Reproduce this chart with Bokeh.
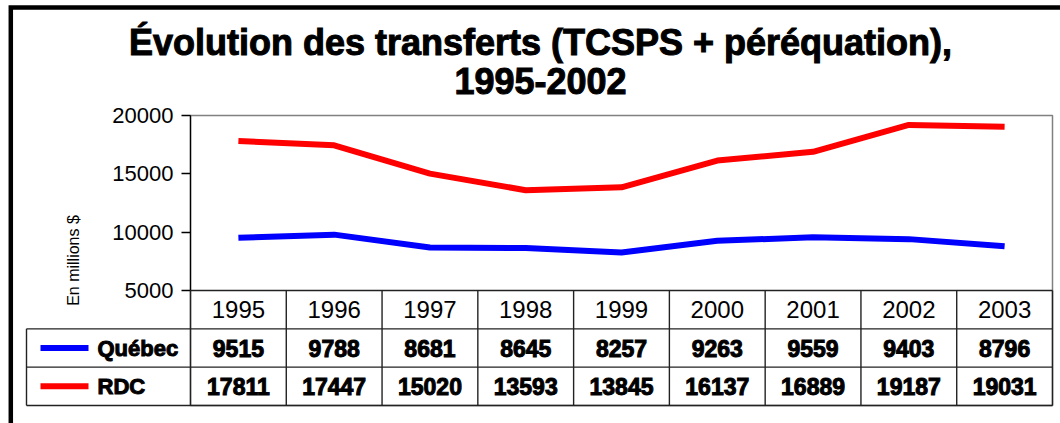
from bokeh.plotting import figure
from bokeh.models import Range1d, FixedTicker
from bokeh.core.properties import value
from bokeh.embed import file_html
from bokeh.resources import INLINE

# ---------------- data ----------------
years = ["1995", "1996", "1997", "1998", "1999", "2000", "2001", "2002", "2003"]
quebec = [9515, 9788, 8681, 8645, 8257, 9263, 9559, 9403, 8796]
rdc = [17811, 17447, 15020, 13593, 13845, 16137, 16889, 19187, 19031]
series_names = ["Québec", "RDC"]
series_colors = ["#0000FF", "#FF0000"]
y_ticks = [5000, 10000, 15000, 20000]
title_lines = ["Évolution des transferts (TCSPS + péréquation),", "1995-2002"]
y_label = "En millions $"

# ---------------- layout (canvas pixels) ----------------
FRAME_L, FRAME_R, FRAME_T, FRAME_B = 190, 1052, 115, 405
CHART_B = 290
W, H = 1060, 423
B_LEFT, B_TOP = FRAME_L, FRAME_T
B_RIGHT, B_BOTTOM = W - FRAME_R, H - FRAME_B
CHART_PX = CHART_B - FRAME_T
TABLE_PX = FRAME_B - CHART_B
ROW_PX = TABLE_PX / 3.0
n = len(years)
COL_PX = (FRAME_R - FRAME_L) / n
ymin_axis, ymax_axis = y_ticks[0], y_ticks[-1]
y_start = ymin_axis - (ymax_axis - ymin_axis) * TABLE_PX / CHART_PX
table_top = (FRAME_B - FRAME_T) / ROW_PX

def px_x(px):
    return (px - FRAME_L) / COL_PX

def px_y(py):
    return (FRAME_B - py) / ROW_PX

p = figure(width=W, height=H, x_range=Range1d(0, n), y_range=Range1d(y_start, ymax_axis),
           output_backend="svg", toolbar_location=None,
           min_border_left=B_LEFT, min_border_right=B_RIGHT,
           min_border_top=B_TOP, min_border_bottom=B_BOTTOM,
           x_axis_location=None, y_axis_location="left")
p.extra_y_ranges = {"table": Range1d(0, table_top)}
p.grid.visible = False
p.outline_line_color = "#808080"
p.outline_line_width = 1.5
p.background_fill_color = "white"
p.border_fill_color = "white"

ax = p.yaxis[0]
ax.ticker = FixedTicker(ticks=y_ticks)
ax.bounds = (ymin_axis, ymax_axis)
ax.major_tick_in = 0
ax.major_tick_out = 9
ax.minor_tick_line_color = None
ax.axis_line_color = "black"
ax.axis_line_width = 1.3
ax.major_tick_line_color = "black"
ax.major_tick_line_width = 1.3
ax.major_label_text_font = "Liberation Sans"
ax.major_label_text_font_size = "22px"
ax.major_label_text_color = "black"
ax.major_label_standoff = 8
ax.axis_label = y_label
ax.axis_label_text_font = "Liberation Sans"
ax.axis_label_text_font_size = "16px"
ax.axis_label_text_font_style = "normal"
ax.axis_label_text_color = "black"
ax.axis_label_standoff = 27

xs = [i + 0.5 for i in range(n)]
for vals, col in zip([quebec, rdc], series_colors):
    p.line(x=xs, y=vals, line_color=col, line_width=6, line_join="round", line_cap="butt")

# ---------------- data table ----------------
x_left = px_x(26)
grid_kw = dict(line_color="#222222", line_width=1.4, y_range_name="table", level="overlay")
p.segment(x0=[0], y0=[3], x1=[n], y1=[3], **grid_kw)
p.segment(x0=[x_left] * 3, y0=[2, 1, 0], x1=[n] * 3, y1=[2, 1, 0], **grid_kw)
p.segment(x0=[x_left], y0=[0], x1=[x_left], y1=[2], **grid_kw)
p.segment(x0=list(range(n + 1)), y0=[0] * (n + 1), x1=list(range(n + 1)), y1=[3] * (n + 1), **grid_kw)

p.text(x=xs, y=[2.5] * n, text=years, text_align="center", text_baseline="middle",
       text_font=value("Liberation Sans"), text_font_size="24px", text_color="black",
       y_range_name="table", level="overlay")
for row_y, vals in zip([1.5, 0.5], [quebec, rdc]):
    p.text(x=xs, y=[row_y] * n, text=[str(v) for v in vals], text_align="center",
           text_baseline="middle", text_font=value("Liberation Sans"),
           text_font_style="bold", text_font_size="23px", text_color="black",
           text_outline_color="black", y_range_name="table", level="overlay")

p.segment(x0=[px_x(40)] * 2, y0=[1.5, 0.5], x1=[px_x(88)] * 2, y1=[1.5, 0.5],
          line_color=series_colors, line_width=6, y_range_name="table", level="overlay")
p.text(x=[px_x(97)] * 2, y=[1.5, 0.5], text=series_names, text_align="left",
       text_baseline="middle", text_font=value("Liberation Sans"), text_font_style="bold",
       text_font_size="22px", text_color="black", text_outline_color="black",
       y_range_name="table", level="overlay")

# ---------------- title ----------------
p.text(x=[px_x(540)] * 2, y=[px_y(42), px_y(80)], text=title_lines, text_align="center",
       text_baseline="alphabetic", text_font=value("Liberation Sans"), text_font_style="bold",
       text_font_size="36px", text_color="black", text_outline_color="black",
       y_range_name="table", level="overlay")

# ---------------- outer frame (thick border, top & left) ----------------
p.line(x=[px_x(10.3), px_x(10.3), px_x(1080)], y=[px_y(440), px_y(7), px_y(7)],
       line_color="black", line_width=4.5, line_join="miter", y_range_name="table", level="overlay")

open("out.html", "w").write(file_html(p, INLINE))
